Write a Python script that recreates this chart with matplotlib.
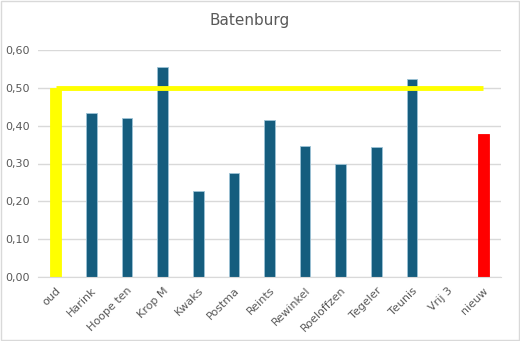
import matplotlib.pyplot as plt
from matplotlib.patches import Rectangle

namen = ['oud', 'Harink', 'Hoope ten', 'Krop M', 'Kwaks', 'Postma', 'Reints',
         'Rewinkel', 'Roeloffzen', 'Tegeler', 'Teunis', 'Vrij 3', 'nieuw']
waarden = [0.50, 0.434, 0.42, 0.556, 0.228, 0.275, 0.414,
           0.345, 0.299, 0.343, 0.523, 0.0, 0.378]
grens = [0.50] * len(namen)

kleuren = ['#FFFF00'] + ['#155D7E'] * 11 + ['#FF0000']
randen = ['#FFFF00'] + ['#9DC3D6'] * 11 + ['#FF0000']

fig = plt.figure(figsize=(5.2, 3.41), dpi=100)
ax = fig.add_axes([38 / 520, 1 - 277 / 341, 463 / 520, 227 / 341])

x = range(len(namen))
ax.bar(x, waarden, width=0.3, color=kleuren, edgecolor=randen, linewidth=0.6, zorder=2)
ax.plot(x, grens, color='#FFFF00', linewidth=3.5, solid_capstyle='butt', zorder=3)

ax.set_xlim(-0.5, len(namen) - 0.5)
ax.set_ylim(0, 0.6)
ax.set_yticks([0, 0.1, 0.2, 0.3, 0.4, 0.5, 0.6])
ax.set_yticklabels([f'{v:.2f}'.replace('.', ',') for v in ax.get_yticks()],
                   color='#595959', fontsize=8)
ax.set_xticks(list(x))
ax.set_xticklabels(namen, rotation=45, ha='right', rotation_mode='anchor',
                   color='#595959', fontsize=8)
ax.tick_params(length=0, pad=6)
ax.yaxis.grid(True, color='#D9D9D9', linewidth=1, zorder=0)
for s in ['top', 'right', 'left']:
    ax.spines[s].set_visible(False)
ax.spines['bottom'].set_color('#D9D9D9')
ax.set_axisbelow(True)

fig.text(250 / 520, 1 - 20 / 341, 'Batenburg', ha='center', va='center',
         fontsize=11, color='#595959')
fig.patches.append(Rectangle((0.002, 0.003), 0.996, 0.994, transform=fig.transFigure,
                             fill=False, edgecolor='#D9D9D9', linewidth=1))

fig.savefig('out.png', dpi=100)
